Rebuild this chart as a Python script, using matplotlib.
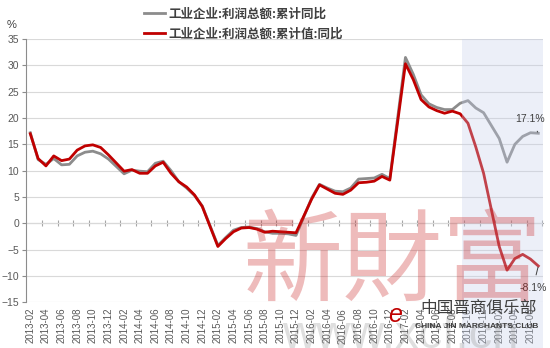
import matplotlib
matplotlib.use('Agg')
import matplotlib.pyplot as plt
import pandas as pd

plt.rcParams['font.family'] = ['Liberation Sans', 'Noto Sans CJK SC', 'DejaVu Sans']

# 月份 (一月没有数据)
months = pd.period_range('2013-02', '2018-07', freq='M').strftime('%Y-%m').tolist()

gray_label = '工业企业:利润总额:累计同比'
red_label = '工业企业:利润总额:累计值:同比'

gray = [17.2, 12.1, 11.2, 12.3, 11.1, 11.2, 12.8, 13.5, 13.7, 13.2, 12.2,
        None, 9.4, 10.1, 9.9, 9.8, 11.4, 11.8, 10.0, 7.9, 6.7, 5.3, 3.3,
        None, -4.2, -2.7, -1.3, -0.8, -0.7, -1.0, -1.6, -1.9, -1.9, -2.0, -2.3,
        None, 4.8, 7.4, 6.7, 6.1, 6.0, 6.7, 8.4, 8.5, 8.6, 9.3, 8.5,
        None, 31.5, 28.3, 24.4, 22.7, 22.0, 21.6, 21.6, 22.8, 23.3, 21.9, 21.0,
        None, 16.1, 11.6, 15.0, 16.5, 17.2, 17.1]

red = [17.0, 12.3, 10.9, 12.8, 11.9, 12.2, 13.9, 14.7, 14.9, 14.4, 13.0,
       None, 9.9, 10.2, 9.5, 9.5, 10.9, 11.6, 9.5, 7.9, 6.9, 5.4, 3.2,
       None, -4.4, -2.9, -1.6, -0.9, -0.8, -1.1, -1.7, -1.5, -1.6, -1.7, -1.8,
       None, 4.6, 7.3, 6.5, 5.7, 5.5, 6.3, 7.7, 7.8, 8.0, 8.9, 8.2,
       None, 30.3, 27.3, 23.5, 22.1, 21.4, 20.9, 21.3, 20.8, 19.0, 14.5, 9.5,
       None, -4.4, -8.9, -6.7, -5.9, -6.8, -8.1]

shade_start = 55.3  # 阴影区域起点(月份序号)

s_gray = pd.Series(gray, dtype=float).dropna()
s_red = pd.Series(red, dtype=float).dropna()

fig = plt.figure(figsize=(5.5, 3.48), dpi=100)
ax = fig.add_axes([26/550, 1 - 302.3/348, (543 - 26)/550, (302.3 - 39)/348])

l1, = ax.plot(s_gray.index, s_gray.values, color='#8c8c8c', lw=2.0, zorder=3)
l2, = ax.plot(s_red.index, s_red.values, color='#c00000', lw=2.0, zorder=4)

ax.set_ylim(-15, 35)
ax.set_yticks(range(-15, 36, 5))
ax.set_xlim(-0.55, len(months) - 0.4)
ax.grid(axis='y', color='#d9d9d9', lw=0.8)
ax.set_axisbelow(True)
for side in ['top', 'right', 'bottom']:
    ax.spines[side].set_visible(False)
ax.spines['left'].set_color('#8c8c8c')
ax.tick_params(axis='y', length=3, color='#8c8c8c', labelsize=7.5,
               labelcolor='#595959', pad=2)
ax.set_xticks(range(0, len(months), 2))
ax.set_xticklabels(months[::2], rotation=90)
ax.tick_params(axis='x', length=0, labelsize=7, labelcolor='#595959', pad=4)

# 0 轴
sec = ax.secondary_xaxis(0, transform=ax.transData)
sec.set_xticks([n + 0.5 for n in range(1, len(months), 2)])
sec.tick_params(direction='inout', length=4, color='#a6a6a6',
                labelbottom=False, labeltop=False)
for sp in sec.spines.values():
    sp.set_color('#a6a6a6')

ax.axvspan(shade_start, len(months) - 0.4, ymin=-0.175, ymax=1.0,
           color='#c5cfea', alpha=0.32, lw=0, zorder=5, clip_on=False)

last = len(months) - 1
ax.annotate(f'{gray[-1]:.1f}%', xy=(last, gray[-1]), xytext=(64.0, 19.9),
            ha='center', va='center', fontsize=7.5, color='#404040',
            arrowprops=dict(arrowstyle='-', color='#404040', lw=0.7,
                            shrinkA=4, shrinkB=1), zorder=6)
ax.annotate(f'{red[-1]:.1f}%', xy=(last, red[-1]), xytext=(64.3, -12.3),
            ha='center', va='center', fontsize=7.5, color='#404040',
            arrowprops=dict(arrowstyle='-', color='#404040', lw=0.7,
                            shrinkA=4, shrinkB=1), zorder=6)

fig.text(12/550, 1 - 25/348, '%', fontsize=8, color='#404040',
         ha='center', va='center')

fig.legend([l1, l2], [gray_label, red_label], loc='upper left',
           bbox_to_anchor=(136/550, 1.0), frameon=False,
           prop={'family': ['Noto Sans CJK SC'], 'size': 9, 'weight': 'bold'},
           labelcolor='#404040', handlelength=1.7, handletextpad=0.3,
           labelspacing=0.55, borderpad=0.1)

# 水印
fig.text(393/550, 1 - 264/348, '新財富', fontsize=72, color='#c81e1e',
         alpha=0.3, ha='center', va='center', family=['Noto Sans CJK TC'])
fig.text(400/550, 1 - 336/348, 'www.xcf.cn', fontsize=34, color='#8c8c8c',
         alpha=0.28, ha='center', va='center')
fig.text(395/550, 1 - 315/348, 'e', fontsize=18, color='#c00000',
         style='italic', ha='center', va='center')
fig.text(479/550, 1 - 308/348, '中国晋商俱乐部', fontsize=12, color='#404040',
         ha='center', va='center', family=['Noto Sans CJK SC'])
fig.text(477/550, 1 - 327/348, 'CHINA JIN MARCHANTS CLUB', fontsize=6,
         color='#404040', weight='bold', ha='center', va='center')

fig.savefig('out.png', dpi=100)
